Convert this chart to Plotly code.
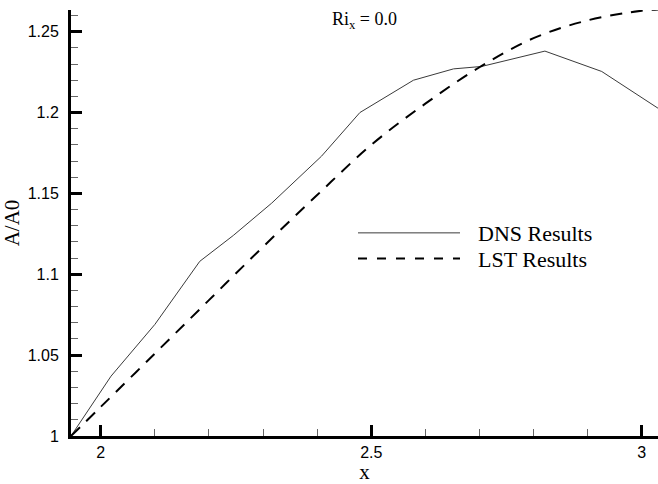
import plotly.graph_objects as go

# DNS amplitude ratio along x
dns_x = [1.945, 2.019, 2.100, 2.183, 2.245, 2.316, 2.408, 2.479, 2.578, 2.652, 2.704, 2.821, 2.926, 3.030]
dns_y = [1.000, 1.037, 1.069, 1.108, 1.124, 1.144, 1.173, 1.200, 1.220, 1.227, 1.2285, 1.238, 1.2254, 1.2027]

# Linear stability theory prediction
lst_x = [1.945, 2.0, 2.1, 2.2, 2.3, 2.4, 2.5, 2.6, 2.7, 2.8, 2.9, 3.0, 3.03]
lst_y = [1.000, 1.018, 1.051, 1.084, 1.117, 1.149, 1.180, 1.2055, 1.228, 1.246, 1.257, 1.263, 1.2638]

series_names = ["DNS Results", "LST Results"]
case_label = "Ri<sub>x</sub> = 0.0"

serif = "Liberation Serif"
sans = "Liberation Sans"

fig = go.Figure()
fig.add_trace(go.Scatter(x=dns_x, y=dns_y, mode="lines", name=series_names[0],
                         line=dict(color="#3a3a3a", width=1)))
fig.add_trace(go.Scatter(x=lst_x, y=lst_y, mode="lines", name=series_names[1],
                         line=dict(color="black", width=2, dash="12px,9px", shape="spline")))

W, H = 658, 484
ml, mr, mt, mb = 71, 0, 10, 42
pw, ph = W - ml - mr, H - mt - mb


def px_x(px):
    return (px - ml) / pw


def px_y(py):
    return (H - mb - py) / ph


# hand-drawn key inside the plot area
fig.add_shape(type="line", xref="paper", yref="paper",
              x0=px_x(358), x1=px_x(460), y0=px_y(236), y1=px_y(236),
              line=dict(color="#3a3a3a", width=1))
fig.add_shape(type="line", xref="paper", yref="paper",
              x0=px_x(358), x1=px_x(460), y0=px_y(262), y1=px_y(262),
              line=dict(color="black", width=2, dash="9px,10px"))
fig.add_annotation(xref="paper", yref="paper", x=px_x(476), y=px_y(237),
                   text=series_names[0], showarrow=False, xanchor="left", yanchor="middle",
                   font=dict(family=serif, size=22, color="black"))
fig.add_annotation(xref="paper", yref="paper", x=px_x(476), y=px_y(263),
                   text=series_names[1], showarrow=False, xanchor="left", yanchor="middle",
                   font=dict(family=serif, size=22, color="black"))
fig.add_annotation(xref="paper", yref="paper", x=px_x(364), y=px_y(21),
                   text=case_label, showarrow=False, xanchor="center", yanchor="middle",
                   font=dict(family=serif, size=18, color="black"))

axis_common = dict(
    showline=True, linewidth=3, linecolor="black",
    ticks="inside", ticklen=11, tickwidth=2.5, tickcolor="black",
    showgrid=False, zeroline=False,
    tickfont=dict(family=sans, size=16, color="black"),
)

fig.update_xaxes(
    range=[1.945, 1.945 + pw / 541.0], tick0=0, dtick=0.5,
    minor=dict(tick0=0, dtick=0.1, ticks="inside", ticklen=7, tickwidth=1, tickcolor="#666"),
    title=dict(text="x", font=dict(family=serif, size=21, color="black"), standoff=8),
    **axis_common,
)
fig.update_yaxes(
    range=[1.0, 1.0 + ph / 1640.0], tick0=0, dtick=0.05,
    minor=dict(tick0=0, dtick=0.01, ticks="inside", ticklen=7, tickwidth=1, tickcolor="#666"),
    title=dict(text="A/A0", font=dict(family=serif, size=21, color="black"), standoff=4),
    ticklabelstandoff=6,
    **axis_common,
)

fig.update_layout(
    width=W, height=H, autosize=False,
    margin=dict(l=ml, r=mr, t=mt, b=mb, pad=0),
    plot_bgcolor="white", paper_bgcolor="white",
    showlegend=False,
)

fig.write_html("out.html")
